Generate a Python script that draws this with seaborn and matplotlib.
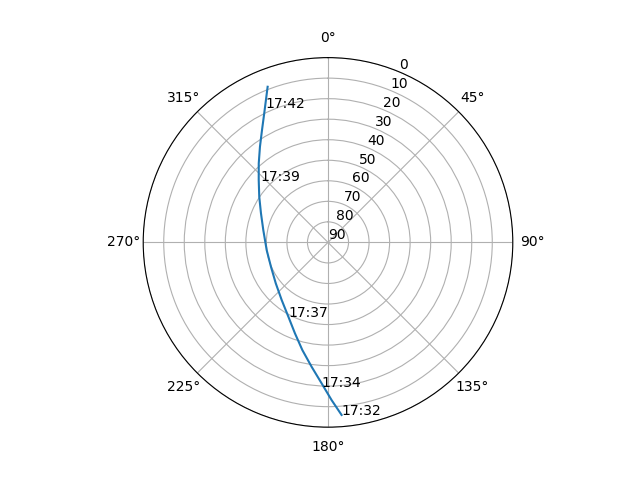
import numpy as np
import pandas as pd
import matplotlib
matplotlib.use("Agg")
import matplotlib.pyplot as plt
import seaborn as sns

# Satellite pass track: azimuth (deg, clockwise from N) and elevation (deg)
azimuth = [175.5, 178.7, 182.6, 187.5, 193.4, 200.0, 208.1, 218.8, 232.0, 246.9,
           262.9, 280.9, 293.5, 303.6, 312.0, 318.8, 324.6, 329.6, 333.7, 338.8]
elevation = [5.7, 13.2, 21.3, 28.9, 36.1, 42.9, 49.0, 54.0, 57.7, 59.8,
             59.9, 57.9, 54.4, 49.8, 44.6, 38.8, 32.8, 26.5, 19.9, 8.7]

label_times = ["17:32", "17:34", "17:37", "17:39", "17:42"]
label_az = [175.5, 182.4, 208.1, 312.2, 335.0]
label_el = [5.7, 19.3, 49.0, 45.3, 18.0]

r_ticks = [0, 10, 20, 30, 40, 50, 60, 70, 80, 90]

df = pd.DataFrame({"theta": np.radians(azimuth), "el": elevation})

fig = plt.figure(figsize=(6.4, 4.8), dpi=100)
ax = fig.add_subplot(projection="polar")
ax.set_theta_zero_location("N")
ax.set_theta_direction(-1)

sns.lineplot(data=df, x="theta", y="el", sort=False, ax=ax, color="#1f77b4")

for t, a, e in zip(label_times, label_az, label_el):
    ax.text(np.radians(a), e, t)

ax.set_ylim(90, 0)
ax.set_yticks(r_ticks)
ax.set_xlabel("")
ax.set_ylabel("")
ax.grid(True)

fig.savefig("out.png", dpi=100)
